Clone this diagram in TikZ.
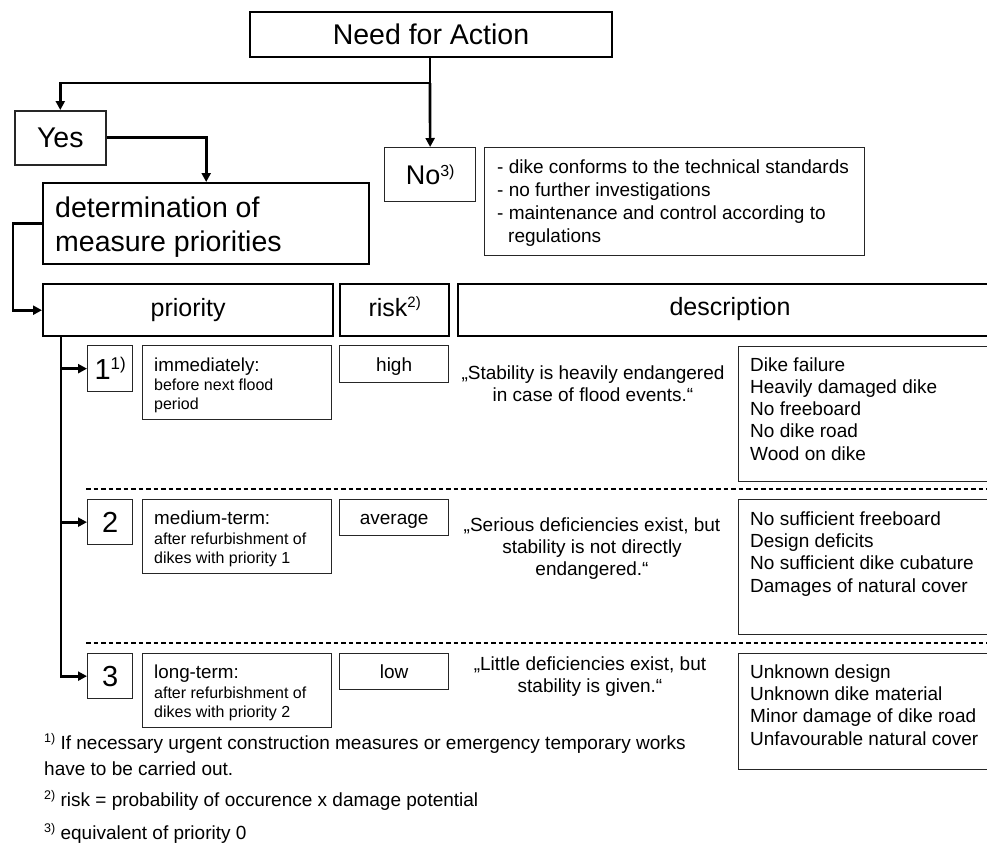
\documentclass[tikz,border=0pt]{standalone}
\usepackage{fontspec}
\setmainfont{Liberation Sans}
\usetikzlibrary{arrows.meta}
\newcommand\myfs[2]{\fontsize{#1pt}{#2pt}\selectfont}
\newcommand\mysup[3]{\raisebox{#1pt}{\fontsize{#2pt}{#2pt}\selectfont #3}}
\begin{document}
\begin{tikzpicture}[x=1pt,y=-1pt,
  bx/.style={draw=black!85, line width=1.3pt, inner sep=0pt, anchor=north west},
  thk/.style={bx, draw=black, line width=2.4pt},
  conn/.style={line width=2.7pt},
  arr/.style={conn, -{Triangle[length=9pt,width=9pt]}},
  dsh/.style={line width=2pt, dash pattern=on 4.5pt off 3pt},
  txt/.style={inner sep=0pt, font=\myfs{19}{22}},
  big/.style={font=\myfs{28.5}{34}},
  hdr/.style={font=\myfs{25}{30}, text height=17.5pt, text depth=5.5pt},
  dig/.style={font=\myfs{29}{34}, text height=21pt, text depth=0pt},
  small/.style={font=\myfs{19}{22}, text height=15pt, text depth=1pt}
]
\clip (0,0) rectangle (987,844);
% top
\node[thk, line width=2pt, minimum width=362, minimum height=45, big] (title) at (249,11) {Need for Action};
\node[bx, line width=1.6pt, minimum width=91, minimum height=54, big] (yes) at (14,110) {Yes};
\node[bx, minimum width=91, minimum height=54, font=\myfs{27}{32}, text height=20pt, text depth=0pt] (no) at (384,147) {No\mysup{8}{16}{3)}};
\node[thk, minimum width=326, minimum height=81] (det) at (42,182) {};
\node[anchor=base west, inner sep=0pt, align=left, big] (dett) at (55,251) {determination of\\measure priorities};
\node[bx, minimum width=380, minimum height=108] (nodesc) at (484,147) {};
\node[txt, anchor=base west, align=left, font=\myfs{19}{23}] (nodesct) at (497,242) {- dike conforms to the technical standards\\- no further investigations\\- maintenance and control according to\\\hspace*{11pt}regulations};
\coordinate (j) at (430,83);
\draw[conn] (title.south -| j) -- (j);
\draw[arr] (j) -| (yes.north);
\draw[arr] (j) -- (no.north);
\draw[arr] (yes.east) -| (det.north);
% header
\node[thk, minimum width=290, minimum height=52, hdr] (hp) at (42,283) {priority};
\node[thk, minimum width=109, minimum height=52, hdr] (hr) at (339,283) {risk\mysup{9}{15}{2)}};
\node[thk, minimum width=560, minimum height=52] (hd) at (457,283) {};
\node[anchor=base, inner sep=0pt, hdr] (hdt) at (730,315) {description};
\draw[arr] (det.west) -- ++(-29,0) |- (hp.west);
% rows
\node[bx, minimum width=45, minimum height=46, dig] (b1) at (87,345) {1\mysup{10}{17}{1)}};
\node[bx, minimum width=189, minimum height=74] (p1) at (142,345) {};
\node[anchor=base west, inner sep=0pt, align=left, font=\myfs{16}{19}] (p1t) at (154,409) {\myfs{18.8}{22}immediately:\\[0pt]before next flood\\period};
\node[bx, minimum width=109, minimum height=37, small] (r1) at (339,345) {high};
\node[txt, anchor=base, align=center] (q1) at (593,401) {„Stability is heavily endangered\\in case of flood events.“};
\node[bx, minimum width=260, minimum height=135] (d1) at (738,346) {};
\node[txt, anchor=base west, align=left, font=\myfs{19}{22.2}] (d1t) at (750,460) {Dike failure\\Heavily damaged dike\\No freeboard\\No dike road\\Wood on dike};
\draw[dsh] (86,489) -- (987,489);
\node[bx, minimum width=45, minimum height=45, dig] (b2) at (87,499) {2};
\node[bx, minimum width=189, minimum height=74] (p2) at (142,499) {};
\node[anchor=base west, inner sep=0pt, align=left, font=\myfs{16}{19}] (p2t) at (154,563) {\myfs{18.8}{22}medium-term:\\[1pt]after refurbishment of\\dikes with priority 1};
\node[bx, minimum width=109, minimum height=36, small] (r2) at (339,499) {average};
\node[txt, anchor=base, align=center] (q2) at (592,575) {„Serious deficiencies exist, but\\stability is not directly\\endangered.“};
\node[bx, minimum width=260, minimum height=135] (d2) at (738,499) {};
\node[txt, anchor=base west, align=left, font=\myfs{19}{22.3}] (d2t) at (750,592) {No sufficient freeboard\\Design deficits\\No sufficient dike cubature\\Damages of natural cover};
\draw[dsh] (86,643) -- (987,643);
\node[bx, minimum width=45, minimum height=45, dig] (b3) at (87,653) {3};
\node[bx, minimum width=189, minimum height=74] (p3) at (142,653) {};
\node[anchor=base west, inner sep=0pt, align=left, font=\myfs{16}{19}] (p3t) at (154,717) {\myfs{18.8}{22}long-term:\\[1pt]after refurbishment of\\dikes with priority 2};
\node[bx, minimum width=109, minimum height=36, small] (r3) at (339,653) {low};
\node[txt, anchor=base, align=center] (q3) at (590,692) {„Little deficiencies exist, but\\stability is given.“};
\node[bx, minimum width=260, minimum height=116] (d3) at (738,653) {};
\node[txt, anchor=base west, align=left, font=\myfs{19}{22.3}] (d3t) at (750,745) {Unknown design\\Unknown dike material\\Minor damage of dike road\\Unfavourable natural cover};
% trunk
\coordinate (t) at (61,335);
\draw[arr] (t) |- (b3.west);
\draw[arr] (t |- b1.west) -- (b1.west);
\draw[arr] (t |- b2.west) -- (b2.west);
% footnotes
\node[txt, anchor=base west, align=left, font=\myfs{19}{25.5}] (fn1) at (44,775) {\mysup{7}{12.5}{1)} If necessary urgent construction measures or emergency temporary works\\have to be carried out.};
\node[txt, anchor=base west] (fn2) at (44,806) {\mysup{7}{12.5}{2)} risk = probability of occurence x damage potential};
\node[txt, anchor=base west] (fn3) at (44,839) {\mysup{7}{12.5}{3)} equivalent of priority 0};
\end{tikzpicture}
\end{document}
